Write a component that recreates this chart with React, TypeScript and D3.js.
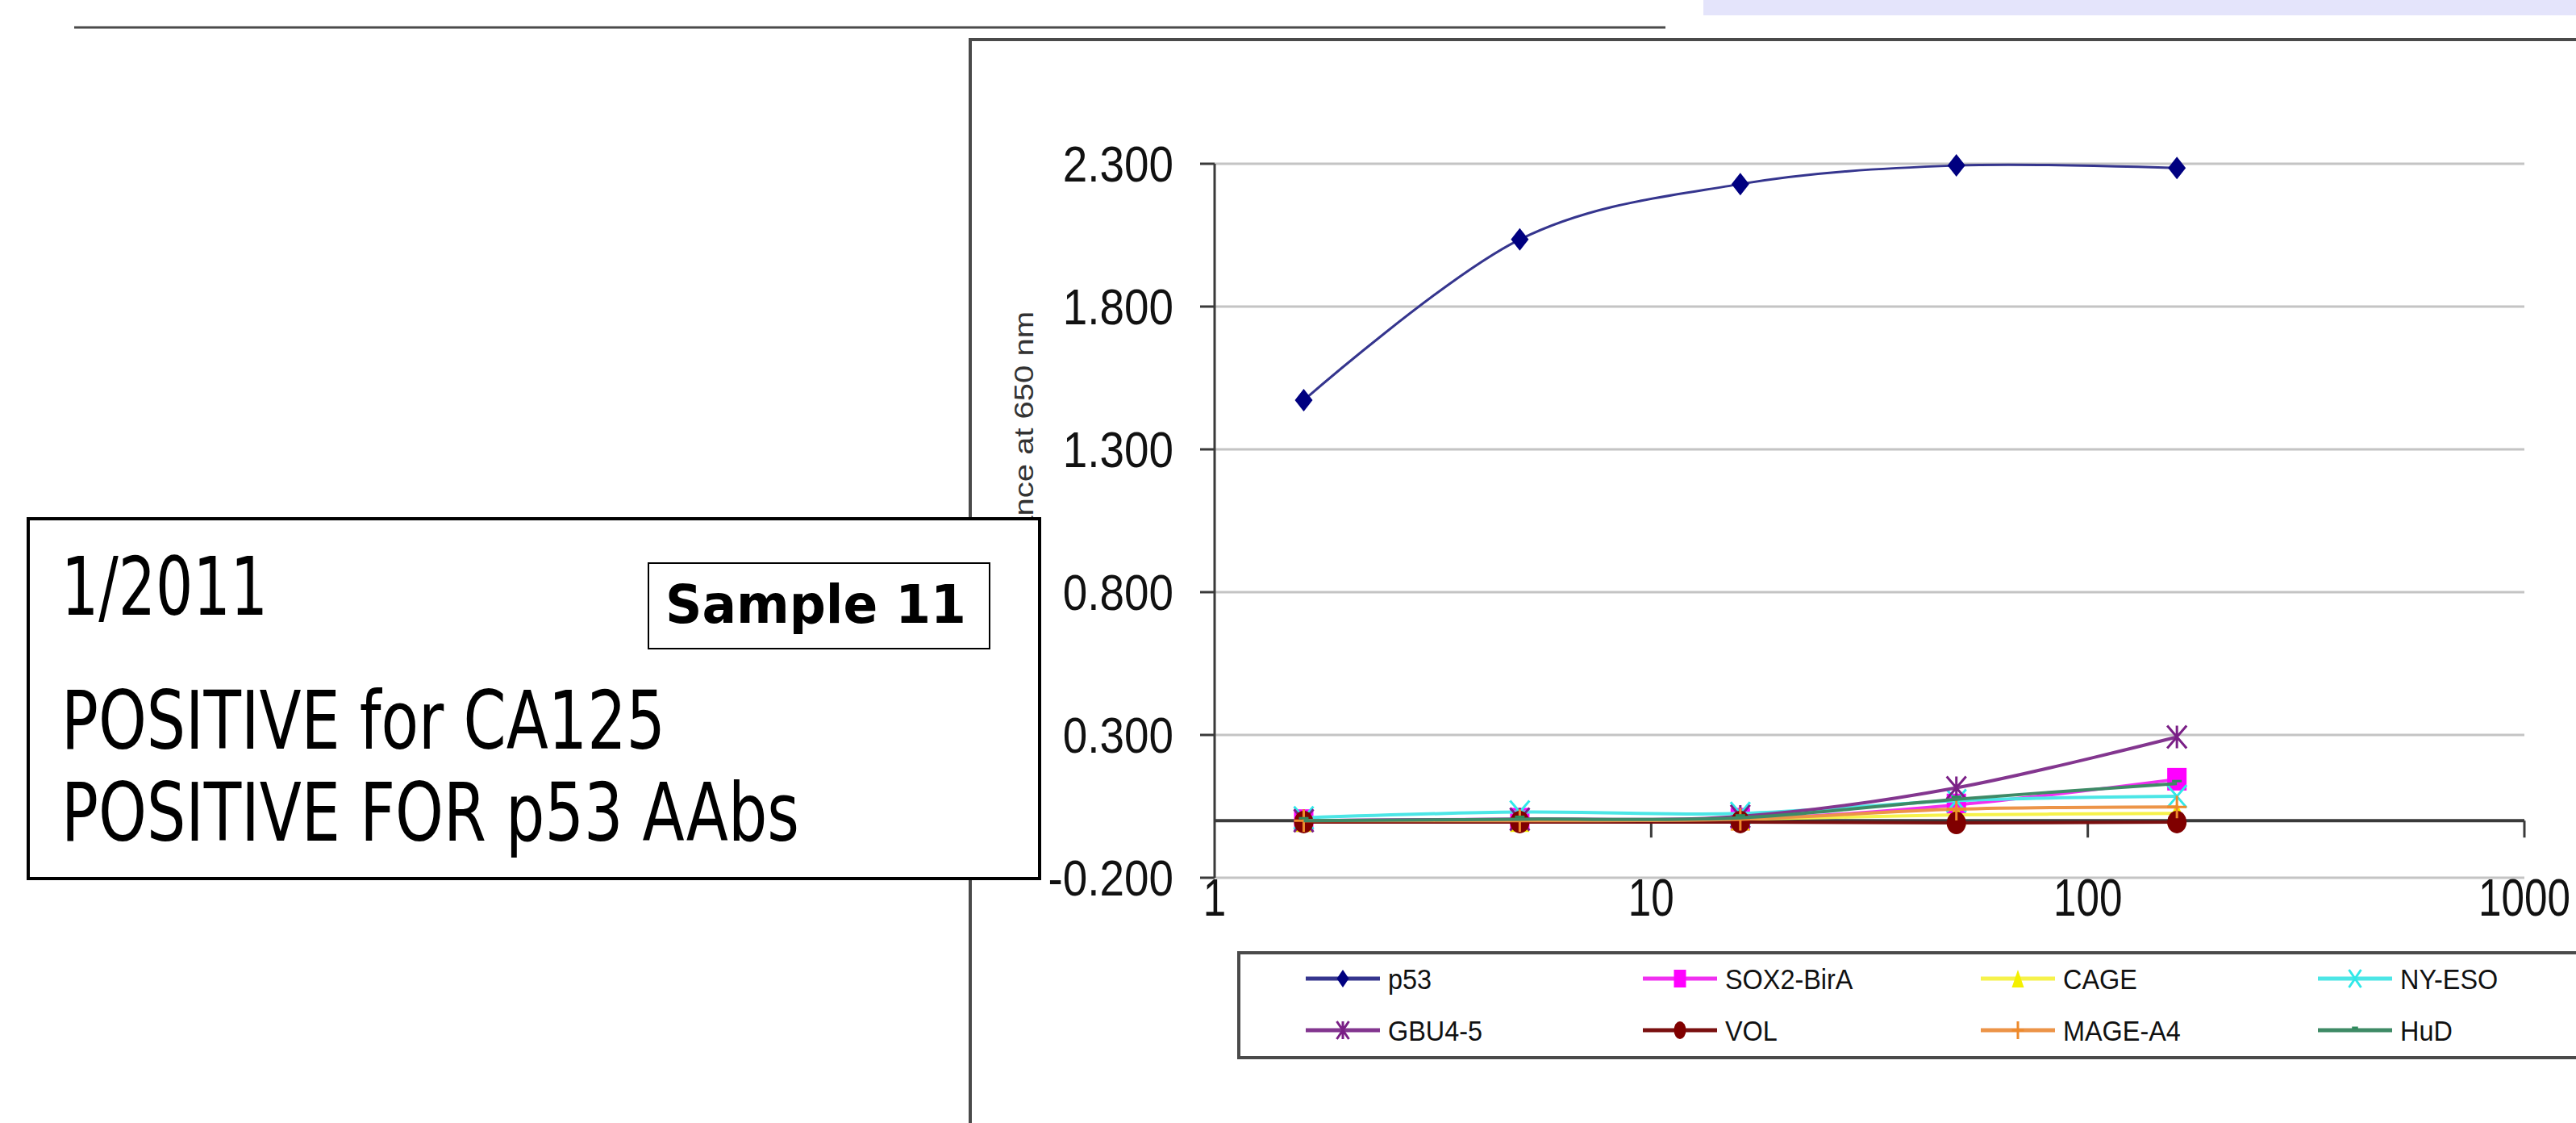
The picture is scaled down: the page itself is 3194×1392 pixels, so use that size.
import React from "react";
import * as d3 from "d3";

// serum dilution points (x axis, log scale)
const dilutions = [1.6, 5, 16, 50, 160];

// absorbance readings per antigen
const p53 = [1.472, 2.035, 2.229, 2.294, 2.285];
const sox2BirA = [0.0, 0.005, 0.005, 0.055, 0.145];
const cage = [0.0, 0.0, 0.005, 0.02, 0.025];
const nyEso = [0.01, 0.03, 0.025, 0.07, 0.085];
const gbu45 = [0.0, 0.005, 0.015, 0.115, 0.293];
const vol = [-0.005, -0.005, -0.005, -0.008, -0.005];
const mageA4 = [0.0, 0.0, 0.005, 0.04, 0.048];
const hud = [0.0, 0.005, 0.01, 0.075, 0.13];

const seriesNames = ["p53", "SOX2-BirA", "CAGE", "NY-ESO", "GBU4-5", "VOL", "MAGE-A4", "HuD"];
const seriesValues = [p53, sox2BirA, cage, nyEso, gbu45, vol, mageA4, hud];
const markerColors = ["#000080", "#ff00ff", "#f4f000", "#30e8e8", "#7a1f86", "#800000", "#ee8a2c", "#2f8a5c"];
const lineColors = ["#35358e", "#f030f0", "#f6f24a", "#4ce6e6", "#83368f", "#7a1010", "#ec9448", "#3e8a66"];
const seriesMarkers = ["diamond", "square", "triangle", "x", "star", "circle", "plus", "dash"];

const yTicks = [-0.2, 0.3, 0.8, 1.3, 1.8, 2.3];
const xTicks = [1, 10, 100, 1000];

const axisFont = "'Liberation Sans', Arial, sans-serif";
const boxFont = "'DejaVu Sans', Tahoma, sans-serif";

function Marker({ kind, color, w, h, sw = 3 }) {
  const hw = w / 2;
  const hh = h / 2;
  if (kind === "diamond")
    return <path d={`M0,${-hh}L${hw},0L0,${hh}L${-hw},0Z`} fill={color} />;
  if (kind === "square")
    return <rect x={-hw} y={-hh} width={w} height={h} fill={color} />;
  if (kind === "triangle")
    return <path d={`M0,${-hh}L${hw},${hh}L${-hw},${hh}Z`} fill={color} />;
  if (kind === "circle") return <ellipse rx={hw} ry={hh} fill={color} />;
  if (kind === "x")
    return (
      <path d={`M${-hw},${-hh}L${hw},${hh}M${hw},${-hh}L${-hw},${hh}`} stroke={color} strokeWidth={sw} />
    );
  if (kind === "star")
    return (
      <path
        d={`M${-hw},${-hh}L${hw},${hh}M${hw},${-hh}L${-hw},${hh}M0,${-hh}L0,${hh}`}
        stroke={color}
        strokeWidth={sw}
      />
    );
  if (kind === "plus")
    return <path d={`M0,${-hh}L0,${hh}M${-hw},0L${hw},0`} stroke={color} strokeWidth={sw} />;
  return <path d={`M${-hw / 2},-3L${hw / 2},-3`} stroke={color} strokeWidth={sw} />;
}

function App() {
  const x = d3.scaleLog().domain([1, 1000]).range([1506, 3130]);
  const y = d3.scaleLinear().domain([-0.2, 2.3]).range([1088, 203]);

  const line = d3
    .line()
    .x((d) => x(d[0]))
    .y((d) => y(d[1]))
    .curve(d3.curveCatmullRom.alpha(0));

  const fmt = (t) => d3.format(".3f")(t).replace("\u2212", "-");

  const legendX = [1619, 2037, 2456, 2874];
  const legendY = [1213, 1277];

  return (
    <svg
      width={3194}
      height={1392}
      style={{ position: "absolute", left: 0, top: 0, background: "#fff" }}
    >
      {/* slide decoration */}
      <rect x={2112} y={0} width={1082} height={19} fill="#e4e4fb" />
      <line x1={92} x2={2065} y1={34} y2={34} stroke="#4a4a4a" strokeWidth={3} />

      {/* chart frame */}
      <rect x={1203} y={49} width={2100} height={1500} fill="#fff" stroke="#4a4a4a" strokeWidth={4} />

      {/* y-axis title, partly hidden by the note box */}
      <text
        transform={`translate(1281,386) rotate(-90) scale(1,0.85)`}
        textAnchor="end"
        fontFamily={axisFont}
        fontSize={40}
        fill="#333"
      >
        Absorbance at 650 nm
      </text>

      {/* gridlines */}
      {yTicks.map((t) => (
        <line key={"g" + t} x1={x(1)} x2={x(1000)} y1={y(t)} y2={y(t)} stroke="#c4c4c4" strokeWidth={3} />
      ))}

      {/* y axis */}
      <line x1={x(1)} x2={x(1)} y1={y(2.3)} y2={y(-0.2)} stroke="#3a3a3a" strokeWidth={3} />
      {yTicks.map((t) => (
        <g key={"yt" + t}>
          <line x1={x(1) - 18} x2={x(1)} y1={y(t)} y2={y(t)} stroke="#3a3a3a" strokeWidth={3} />
          <text
            transform={`translate(1455,${y(t) + 22}) scale(0.87,1)`}
            textAnchor="end"
            fontFamily={axisFont}
            fontSize={63}
            fill="#111"
          >
            {fmt(t)}
          </text>
        </g>
      ))}

      {/* x axis at zero */}
      <line x1={x(1)} x2={x(1000)} y1={y(0)} y2={y(0)} stroke="#3a3a3a" strokeWidth={4} />
      {xTicks.slice(1).map((t) => (
        <line key={"xt" + t} x1={x(t)} x2={x(t)} y1={y(0)} y2={y(0) + 21} stroke="#3a3a3a" strokeWidth={3} />
      ))}
      {xTicks.map((t) => (
        <text
          key={"xl" + t}
          transform={`translate(${x(t)},1135) scale(0.8,1)`}
          textAnchor="middle"
          fontFamily={axisFont}
          fontSize={64}
          fill="#111"
        >
          {t}
        </text>
      ))}

      {/* series */}
      {seriesValues.map((vals, i) => {
        const pts = dilutions.map((d, j) => [d, vals[j]]);
        return (
          <g key={seriesNames[i]}>
            <path d={line(pts)} fill="none" stroke={lineColors[i]} strokeWidth={i === 0 ? 3 : 4} />
            {pts.map((p, j) => (
              <g key={j} transform={`translate(${x(p[0])},${y(p[1])})`}>
                <Marker kind={seriesMarkers[i]} color={markerColors[i]} w={i === 0 ? 22 : 24} h={28} />
              </g>
            ))}
          </g>
        );
      })}

      {/* legend */}
      <rect x={1536} y={1181} width={1800} height={130} fill="#fff" stroke="#4a4a4a" strokeWidth={4} />
      {seriesNames.map((name, i) => {
        const lx = legendX[i % 4];
        const ly = legendY[Math.floor(i / 4)];
        return (
          <g key={"lg" + name}>
            <line x1={lx} x2={lx + 92} y1={ly} y2={ly} stroke={lineColors[i]} strokeWidth={5} />
            <g transform={`translate(${lx + 46},${ly})`}>
              <Marker kind={seriesMarkers[i]} color={markerColors[i]} w={15} h={22} />
            </g>
            <text
              transform={`translate(${lx + 102},${ly + 13}) scale(0.9,1)`}
              fontFamily={axisFont}
              fontSize={36}
              fill="#111"
            >
              {name}
            </text>
          </g>
        );
      })}

      {/* note box over the chart */}
      <rect x={35} y={643} width={1254} height={446} fill="#fff" stroke="#000" strokeWidth={4} />
      <text x={76} y={762} fontFamily={boxFont} fontSize={99} textLength={256} lengthAdjust="spacingAndGlyphs">
        1/2011
      </text>
      <text x={76} y={928} fontFamily={boxFont} fontSize={99} textLength={749} lengthAdjust="spacingAndGlyphs">
        POSITIVE for CA125
      </text>
      <text x={76} y={1042} fontFamily={boxFont} fontSize={99} textLength={915} lengthAdjust="spacingAndGlyphs">
        POSITIVE FOR p53 AAbs
      </text>
      <rect x={804} y={698} width={423} height={106} fill="#fff" stroke="#000" strokeWidth={2} />
      <text
        x={825}
        y={772}
        fontFamily={boxFont}
        fontWeight="bold"
        fontSize={65}
        textLength={373}
        lengthAdjust="spacingAndGlyphs"
      >
        Sample 11
      </text>
    </svg>
  );
}

export default App;
